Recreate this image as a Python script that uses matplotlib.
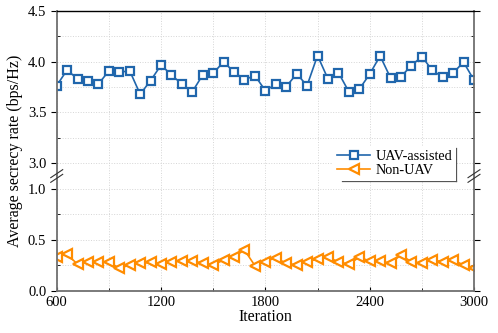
import matplotlib.pyplot as plt
import numpy as np
from matplotlib.ticker import MultipleLocator
from matplotlib.lines import Line2D

plt.rcParams['font.family'] = ['Liberation Serif', 'DejaVu Serif']

iterations = np.arange(600, 3001, 60)

uav_assisted = [3.764, 3.918, 3.827, 3.810, 3.780, 3.908, 3.896, 3.908, 3.679, 3.813,
                3.965, 3.869, 3.777, 3.704, 3.869, 3.886, 3.997, 3.896, 3.823, 3.862,
                3.714, 3.777, 3.754, 3.879, 3.764, 4.059, 3.830, 3.892, 3.704, 3.728,
                3.876, 4.056, 3.839, 3.852, 3.961, 4.049, 3.915, 3.846, 3.889, 3.994,
                3.817]

non_uav = [0.334, 0.358, 0.260, 0.285, 0.279, 0.285, 0.220, 0.253, 0.269, 0.279,
           0.260, 0.285, 0.292, 0.292, 0.269, 0.253, 0.302, 0.334, 0.400, 0.246,
           0.285, 0.325, 0.269, 0.253, 0.285, 0.310, 0.328, 0.285, 0.258, 0.330,
           0.292, 0.292, 0.269, 0.351, 0.285, 0.269, 0.302, 0.285, 0.302, 0.253,
           0.220]

blue = '#2066ac'
orange = '#ff8c00'
spine_col = '#707070'

fig = plt.figure(figsize=(4.98, 3.33), dpi=100)
left, right = 0.1139, 0.9518
split = 0.4715
ax_top = fig.add_axes([left, split, right - left, 0.9679 - split])
ax_bot = fig.add_axes([left, 0.127, right - left, split - 0.127])

ax_top.plot(iterations, uav_assisted, color=blue, lw=1.2, marker='s', ms=6.2,
            mfc='white', mec=blue, mew=1.6)
ax_bot.plot(iterations, non_uav, color=orange, lw=1.2, marker='<', ms=7.5,
            mfc='white', mec=orange, mew=1.6)

ax_top.set_ylim(2.875, 4.5)
ax_bot.set_ylim(0, 1.128)
for ax in (ax_top, ax_bot):
    ax.set_xlim(600, 3000)
    ax.xaxis.set_major_locator(MultipleLocator(600))
    ax.xaxis.set_minor_locator(MultipleLocator(300))
    ax.yaxis.set_minor_locator(MultipleLocator(0.25))
    ax.grid(True, which='both', color='#d5d5d5', ls=':', lw=0.7)
    ax.set_axisbelow(True)
    ax.tick_params(axis='both', which='both', labelsize=10.5, direction='in',
                   right=True, length=3)
    ax.tick_params(axis='y', which='major', direction='out', length=4)
    ax.tick_params(axis='both', which='minor', length=2)
    for s in ax.spines.values():
        s.set_color(spine_col)
        s.set_linewidth(1.3)

ax_top.spines['bottom'].set_visible(False)
ax_top.spines['top'].set_color('black')
ax_top.spines['top'].set_linewidth(1.0)
ax_top.tick_params(axis='x', which='both', bottom=False, labelbottom=False,
                   top=False)
ax_bot.spines['top'].set_visible(False)
ax_bot.tick_params(axis='x', which='both', top=False)
ax_top.set_yticks([3.0, 3.5, 4.0, 4.5])
ax_top.set_yticklabels(['3.0', '3.5', '4.0', '4.5'])
ax_bot.set_yticks([0.0, 0.5, 1.0])
ax_bot.set_yticklabels(['0.0', '0.5', '1.0'])

# break marks
for xf in (left, right):
    for dy in (-0.007, 0.007):
        fig.add_artist(Line2D([xf - 0.012, xf + 0.012],
                              [split + dy - 0.012, split + dy + 0.012],
                              color='#333333', lw=0.8))

fig.text(0.03, 0.547, 'Average secrecy rate (bps/Hz)', rotation=90,
         ha='center', va='center', fontsize=11.5)
ax_bot.set_xlabel('Iteration', fontsize=11.5, labelpad=0)

h1 = Line2D([], [], color=blue, lw=1.2, marker='s', ms=6.2, mfc='white',
            mec=blue, mew=1.6)
h2 = Line2D([], [], color=orange, lw=1.2, marker='<', ms=7.5, mfc='white',
            mec=orange, mew=1.6)
leg = fig.legend([h1, h2], ['UAV-assisted', 'Non-UAV'], loc='lower right',
                 bbox_to_anchor=(456 / 498, 1 - 181 / 333), fontsize=10.3,
                 frameon=True, fancybox=False, edgecolor='none',
                 facecolor='white', framealpha=1, handlelength=2.3,
                 handletextpad=0.4, borderpad=0.25, labelspacing=0.1,
                 borderaxespad=0)
# shadow-like right/bottom edges of legend box
fig.add_artist(Line2D([342 / 498, 456 / 498], [1 - 181 / 333, 1 - 181 / 333],
                      color='#555555', lw=0.9))
fig.add_artist(Line2D([456 / 498, 456 / 498], [1 - 181 / 333, 1 - 148 / 333],
                      color='#555555', lw=0.9))

fig.savefig('out.png', dpi=100)
